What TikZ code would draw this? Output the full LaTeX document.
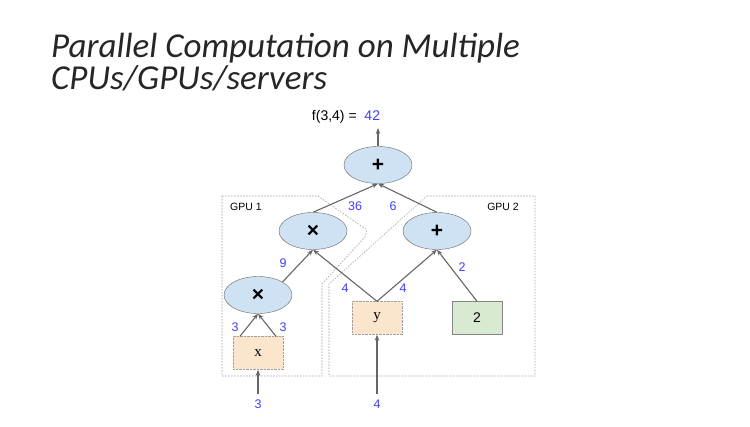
\documentclass[tikz,border=0pt]{standalone}
\usepackage{fontspec}
\setmainfont{Liberation Sans}
\newfontfamily\titlefont{Carlito}
\newfontfamily\varfont{Liberation Serif}
\usetikzlibrary{arrows.meta,shapes.geometric}

\definecolor{opfill}{HTML}{CFE2F3}
\definecolor{varfill}{HTML}{FCE5CD}
\definecolor{constfill}{HTML}{D9EAD3}
\definecolor{valblue}{HTML}{3F3FFF}
\definecolor{edgegray}{HTML}{666666}
\definecolor{gpugray}{HTML}{A0A0A0}
\definecolor{titlegray}{HTML}{262626}

\tikzset{
	op/.style={ellipse, draw=edgegray, fill=opfill, minimum width=68pt, minimum height=37pt, inner sep=0pt, font=\fontsize{21}{21}\selectfont\bfseries},
	var/.style={rectangle, draw=gpugray, densely dotted, fill=varfill, minimum width=50pt, minimum height=33pt, font=\varfont\fontsize{15}{15}\selectfont},
	const/.style={rectangle, draw=edgegray!80, fill=constfill, minimum width=50pt, minimum height=33pt, font=\fontsize{14}{14}\selectfont},
	flow/.style={draw=edgegray, line width=1.1pt, -{Stealth[length=6pt,width=4.5pt]}},
	val/.style={text=valblue, font=\fontsize{12.5}{12.5}\selectfont},
	gpu/.style={draw=gpugray, line width=0.6pt, dash pattern=on 1.5pt off 1.5pt},
	gpulabel/.style={font=\fontsize{10.5}{10.5}\selectfont},
}

\begin{document}
\begin{tikzpicture}[x=1pt,y=-1pt]
	\useasboundingbox[fill=white] (0,0) rectangle (750,427);

	% title
	\node[anchor=base west, inner sep=0pt, text=titlegray, font=\titlefont\itshape\fontsize{35}{35}\selectfont] (title1) at (51,58) {Parallel Computation on Multiple};
	\node[anchor=base west, inner sep=0pt, text=titlegray, font=\titlefont\itshape\fontsize{35}{35}\selectfont] (title2) at (51,90) {CPUs/GPUs/servers};

	% device regions
	\draw[gpu] (222,196) -- (318,196) -- (367,230) -- (365,237) -- (322,284) -- (322,376) -- (222,376) -- cycle;
	\draw[gpu] (427,196) -- (535,196) -- (535,376) -- (329,376) -- (329,284) -- cycle;
	\node[gpulabel] (gpuA) at (246,207) {GPU 1};
	\node[gpulabel] (gpuB) at (503,207) {GPU 2};

	% graph nodes
	\node[op] (addA) at (378,165) {+};
	\node[op] (mulB) at (313,231) {×};
	\node[op] (addB) at (437,231) {+};
	\node[op] (mulA) at (258,295) {×};
	\node[var] (xbox) at (258,353) {x};
	\node[var] (ybox) at (377,318) {y};
	\node[const] (two) at (477,318) {2};

	\coordinate (out) at (378,128);
	\coordinate (xin) at (258,394);
	\coordinate (yin) at (377,394);

	% connectors
	\draw[flow] (addA.north) -- (out);
	\draw[flow] (mulB.north) -- (addA.south);
	\draw[flow] (addB.north) -- (addA.south);
	\draw[flow] (mulA.28) -- (mulB.south);
	\draw[flow] (ybox.north) -- (mulB.south);
	\draw[flow] (ybox.north) -- (addB.south);
	\draw[flow] (two.north) -- (addB.south);
	\draw[flow] ([xshift=-18pt]xbox.north) -- (mulA.south);
	\draw[flow] ([xshift=18pt]xbox.north) -- (mulA.south);
	\draw[flow] (xin) -- (xbox.south);
	\draw[flow] (yin) -- (ybox.south);

	% values
	\node[font=\fontsize{14}{14}\selectfont] (result) at (346,117) {f(3,4) =\ \ \textcolor{valblue}{42}};
	\node[val] (vA) at (355,206) {36};
	\node[val] (vB) at (393,206) {6};
	\node[val] (vC) at (283,263) {9};
	\node[val] (vD) at (345,288) {4};
	\node[val] (vE) at (403,288) {4};
	\node[val] (vF) at (462,267) {2};
	\node[val] (vG) at (235,327) {3};
	\node[val] (vH) at (283,327) {3};
	\node[val] (vI) at (258,404) {3};
	\node[val] (vJ) at (377,404) {4};
\end{tikzpicture}
\end{document}
